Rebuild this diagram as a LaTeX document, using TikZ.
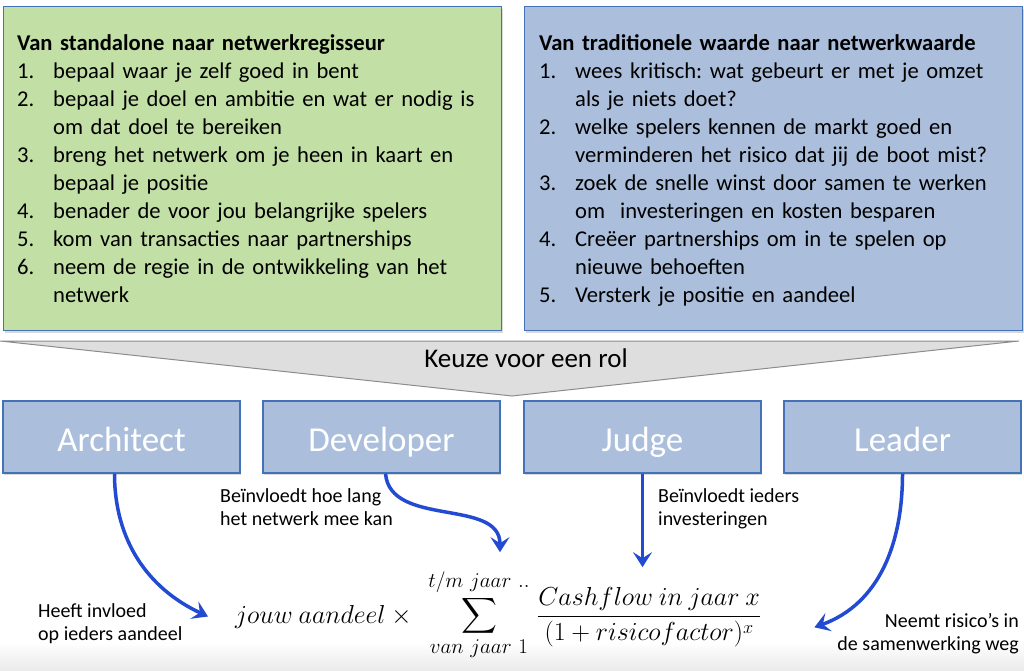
\documentclass[tikz,border=0pt]{standalone}
\usepackage{fix-cm}
\usepackage{amsmath}
\usepackage{fontspec}
\setmainfont{Carlito}
\usetikzlibrary{arrows.meta,shadows}

\definecolor{groen}{RGB}{194,223,165}
\definecolor{lichtblauw}{RGB}{171,191,220}
\definecolor{rand}{RGB}{68,114,182}
\definecolor{pijl}{RGB}{35,75,210}
\definecolor{trechter}{RGB}{222,222,222}

% genummerde stap met hangende inspringing
\newcommand\stap[2]{\par\noindent\hangindent=36pt\hangafter=1\makebox[36pt][l]{#1}#2}

\begin{document}
\frenchspacing
\begin{tikzpicture}[x=1pt,y=1pt,
    kader/.style={draw=rand, line width=1.2pt, minimum width=498pt, minimum height=324pt,
      anchor=north west, inner sep=0pt,
      drop shadow={shadow xshift=1pt, shadow yshift=-2pt, opacity=0.3}},
    lijst/.style={anchor=north west, align=left, text width=482pt, inner sep=0pt,
      font=\fontsize{22.6}{28}\selectfont},
    rol/.style={draw=rand, line width=1.2pt, fill=lichtblauw, text=white,
      minimum width=237pt, minimum height=72pt, inner sep=0pt,
      text height=32pt, text depth=4pt,
      font=\fontsize{35}{40}\selectfont,
      drop shadow={shadow xshift=1pt, shadow yshift=-2pt, opacity=0.3}},
    uitleg/.style={inner sep=0pt, font=\fontsize{20}{23}\selectfont},
    formule/.style={inner sep=0pt, font=\fontsize{26}{30}\selectfont},
    invloed/.style={draw=pijl, line width=3.5pt,
      -{Stealth[length=15pt, width=19pt, inset=6pt]}}]
  \useasboundingbox (0,0) rectangle (1024,670);
  \shade[top color=white, bottom color=black!8] (0,0) rectangle (1024,28);

  % twee kaders bovenaan
  \node[kader, fill=groen] (standalone) at (3,664) {};
  \node[kader, fill=lichtblauw] (traditioneel) at (524,664) {};
  \node[lijst] (standalonetekst) at (17,636) {%
    \textbf{Van standalone naar netwerkregisseur}
    \stap{1.}{bepaal waar je zelf goed in bent}
    \stap{2.}{bepaal je doel en ambitie en wat er nodig is\newline om dat doel te bereiken}
    \stap{3.}{breng het netwerk om je heen in kaart en\newline bepaal je positie}
    \stap{4.}{benader de voor jou belangrijke spelers}
    \stap{5.}{kom van transacties naar partnerships}
    \stap{6.}{neem de regie in de ontwikkeling van het\newline netwerk}\par};
  \node[lijst] (traditioneeltekst) at (539,636) {%
    \textbf{Van traditionele waarde naar netwerkwaarde}
    \stap{1.}{wees kritisch: wat gebeurt er met je omzet\newline als je niets doet?}
    \stap{2.}{welke spelers kennen de markt goed en\newline verminderen het risico dat jij de boot mist?}
    \stap{3.}{zoek de snelle winst door samen te werken\newline om\ \ investeringen en kosten besparen}
    \stap{4.}{Creëer partnerships om in te spelen op\newline nieuwe behoeften}
    \stap{5.}{Versterk je positie en aandeel}\par};

  % trechter
  \draw[fill=trechter, draw=black!45, line width=1pt] (0,329) -- (1019,329) -- (512,274) -- cycle;
  \node[anchor=base, inner sep=0pt, font=\fontsize{27}{32}\selectfont] (keuze) at (526,303) {Keuze voor een rol};

  % rollen
  \node[rol] (architect) at (121.5,233) {Architect};
  \node[rol] (developer) at (381.5,233) {Developer};
  \node[rol] (judge) at (642.5,233) {Judge};
  \node[rol] (leader) at (902.5,233) {Leader};

  % formule
  \node[formule, anchor=base west] (aandeel) at (235,47) {$jouw\ aandeel\times{}$};
  \node[formule, anchor=base, font=\fontsize{30}{35}\selectfont] (som) at (479,47)
    {$\displaystyle\sum_{van\ jaar\ 1}^{t/m\ jaar\ ..}$};
  \node[formule, anchor=base west] (breuk) at (537,47)
    {$\displaystyle\frac{Cashflow\ in\ jaar\ x}{(1+risicofactor)^x}$};

  % toelichting
  \node[uitleg, anchor=north west, align=left] (lang) at (220,182) {Beïnvloedt hoe lang\\het netwerk mee kan};
  \node[uitleg, anchor=north west, align=left] (investering) at (658,182) {Beïnvloedt ieders\\investeringen};
  \node[uitleg, anchor=north west, align=left] (invloed) at (38,67) {Heeft invloed\\op ieders aandeel};
  \node[uitleg, anchor=north east, align=right] (risico) at (1019,57) {Neemt risico’s in\\de samenwerking weg};

  % pijlen
  \draw[invloed] ([xshift=-7pt]architect.south) to[out=-90, in=155] ([xshift=-27pt]aandeel.west);
  \draw[invloed] ([xshift=4pt]developer.south) to[out=-85, in=90] ([xshift=21pt, yshift=17pt]som.north);
  \draw[invloed] (judge.south) -- ([yshift=20pt]judge.south |- breuk.north);
  \draw[invloed] (leader.south) to[out=-90, in=20] ([xshift=53pt, yshift=-10pt]breuk.east);
\end{tikzpicture}
\end{document}
